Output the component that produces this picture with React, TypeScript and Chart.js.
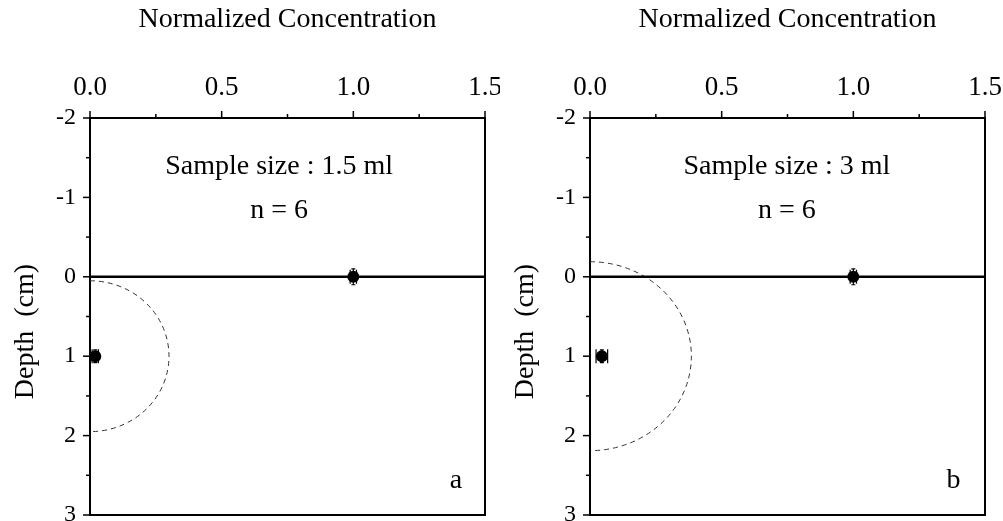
import React, { useEffect, useRef } from 'react';
import { Chart, registerables } from 'chart.js';

Chart.register(...registerables);

// ---------- data ----------
const xTitle = 'Normalized Concentration';
const yTitle = 'Depth  (cm)';

const concMin = 0;
const concMax = 1.5;
const concStep = 0.25;
const depthMin = -2;
const depthMax = 3;
const depthStep = 0.5;

// surface line (depth 0)
const surfaceConc = [0, 1.5];
const surfaceDepth = [0, 0];

// panel a
const concA = [1.0, 0.02];
const depthA = [0, 1.0];
const concErrA = [0.012, 0.012];
const depthErrA = [0.1, 0.08];
const sampleA = 'Sample size : 1.5 ml';
const countA = 'n = 6';
const letterA = 'a';
// sampling region: [centre depth, depth radius, concentration radius]
const regionA = [1.0, 0.95, 0.3];

// panel b
const concB = [1.0, 0.045];
const depthB = [0, 1.0];
const concErrB = [0.012, 0.022];
const depthErrB = [0.1, 0.08];
const sampleB = 'Sample size : 3 ml';
const countB = 'n = 6';
const letterB = 'b';
const regionB = [1.0, 1.19, 0.385];

const SERIF = "'Liberation Serif', 'Times New Roman', serif";

type Panel = {
  conc: number[];
  depth: number[];
  concErr: number[];
  depthErr: number[];
  sample: string;
  count: string;
  letter: string;
  region: number[];
  textConc: number;
  letterConc: number;
};

const panels: Panel[] = [
  { conc: concA, depth: depthA, concErr: concErrA, depthErr: depthErrA, sample: sampleA, count: countA, letter: letterA, region: regionA, textConc: 0.718, letterConc: 1.39 },
  { conc: concB, depth: depthB, concErr: concErrB, depthErr: depthErrB, sample: sampleB, count: countB, letter: letterB, region: regionB, textConc: 0.748, letterConc: 1.38 },
];

function makeDecor(p: Panel) {
  return {
    id: 'decor',
    beforeDatasetsDraw(chart: any) {
      const { ctx, scales } = chart;
      const x = scales.x;
      const y = scales.y;
      // dashed sampling region (half ellipse)
      const [cDepth, rDepth, rConc] = p.region;
      const cx = x.getPixelForValue(0);
      const cy = y.getPixelForValue(cDepth);
      const rx = x.getPixelForValue(rConc) - cx;
      const ry = Math.abs(y.getPixelForValue(cDepth + rDepth) - cy);
      ctx.save();
      ctx.strokeStyle = '#333';
      ctx.lineWidth = 1;
      ctx.setLineDash([5, 4]);
      ctx.beginPath();
      ctx.ellipse(cx, cy, rx, ry, 0, -Math.PI / 2, Math.PI / 2);
      ctx.stroke();
      ctx.restore();
    },
    afterDatasetsDraw(chart: any) {
      const { ctx, scales } = chart;
      const x = scales.x;
      const y = scales.y;
      ctx.save();
      ctx.strokeStyle = '#000';
      ctx.lineWidth = 1.2;
      const cap = 7;
      p.conc.forEach((c, i) => {
        const px = x.getPixelForValue(c);
        const py = y.getPixelForValue(p.depth[i]);
        const x1 = x.getPixelForValue(c - p.concErr[i]);
        const x2 = x.getPixelForValue(c + p.concErr[i]);
        const y1 = y.getPixelForValue(p.depth[i] - p.depthErr[i]);
        const y2 = y.getPixelForValue(p.depth[i] + p.depthErr[i]);
        ctx.beginPath();
        ctx.moveTo(x1, py); ctx.lineTo(x2, py);
        ctx.moveTo(x1, py - cap); ctx.lineTo(x1, py + cap);
        ctx.moveTo(x2, py - cap); ctx.lineTo(x2, py + cap);
        ctx.moveTo(px, y1); ctx.lineTo(px, y2);
        ctx.moveTo(px - 2, y1); ctx.lineTo(px + 2, y1);
        ctx.moveTo(px - 2, y2); ctx.lineTo(px + 2, y2);
        ctx.stroke();
      });
      ctx.restore();
    },
    afterDraw(chart: any) {
      const { ctx, scales, chartArea } = chart;
      const x = scales.x;
      const y = scales.y;
      ctx.save();
      ctx.strokeStyle = '#000';
      ctx.lineWidth = 1.5;
      // x ticks (outward, on top axis)
      x.ticks.forEach((t: any) => {
        const v = t.value;
        const major = Math.abs(v * 2 - Math.round(v * 2)) < 1e-9;
        const len = major ? 7 : 4;
        const px = x.getPixelForValue(v);
        ctx.beginPath();
        ctx.moveTo(px, chartArea.top);
        ctx.lineTo(px, chartArea.top - len);
        ctx.stroke();
      });
      // y ticks (outward, on left axis)
      y.ticks.forEach((t: any) => {
        const v = t.value;
        const major = Math.abs(v - Math.round(v)) < 1e-9;
        const len = major ? 7 : 4;
        const py = y.getPixelForValue(v);
        ctx.beginPath();
        ctx.moveTo(chartArea.left, py);
        ctx.lineTo(chartArea.left - len, py);
        ctx.stroke();
      });
      // annotations
      ctx.fillStyle = '#000';
      ctx.font = `28px ${SERIF}`;
      ctx.textAlign = 'center';
      ctx.textBaseline = 'alphabetic';
      ctx.fillText(p.sample, x.getPixelForValue(p.textConc), y.getPixelForValue(-1.3));
      ctx.fillText(p.count, x.getPixelForValue(p.textConc), y.getPixelForValue(-0.74));
      ctx.fillText(p.letter, x.getPixelForValue(p.letterConc), y.getPixelForValue(2.66));
      // y axis title
      ctx.translate(26, chartArea.top + (chartArea.bottom - chartArea.top) / 2 + 15);
      ctx.rotate(-Math.PI / 2);
      ctx.textBaseline = 'middle';
      ctx.fillText(yTitle, 0, 0);
      ctx.restore();
    },
  };
}

function PanelChart({ p, left, width }: { p: Panel; left: number; width: number }) {
  const ref = useRef<HTMLCanvasElement | null>(null);
  useEffect(() => {
    if (!ref.current) return;
    const rightSpace = width - 485;
    const chart = new Chart(ref.current, {
      type: 'scatter',
      data: {
        datasets: [
          {
            type: 'line',
            label: 'surface',
            data: surfaceConc.map((c, i) => ({ x: c, y: surfaceDepth[i] })),
            borderColor: '#000',
            borderWidth: 2.5,
            pointRadius: 0,
            fill: false,
          } as any,
          {
            label: 'measured',
            data: p.conc.map((c, i) => ({ x: c, y: p.depth[i] })),
            backgroundColor: '#000',
            borderColor: '#000',
            pointRadius: 6,
            pointBorderWidth: 0,
          },
        ],
      },
      options: {
        responsive: false,
        animation: false,
        devicePixelRatio: 1,
        events: [],
        layout: { padding: 0 },
        plugins: { legend: { display: false }, tooltip: { enabled: false } },
        scales: {
          x: {
            type: 'linear',
            position: 'top',
            min: concMin,
            max: concMax,
            grid: { display: false, drawTicks: false },
            border: { display: true, width: 2, color: '#000' },
            ticks: {
              stepSize: concStep,
              autoSkip: false,
              maxRotation: 0,
              padding: 14,
              color: '#000',
              font: { family: SERIF, size: 27 },
              callback: (v: any) => (Math.abs(v * 2 - Math.round(v * 2)) < 1e-9 ? Number(v).toFixed(1) : ''),
            },
            title: {
              display: true,
              text: xTitle,
              color: '#000',
              font: { family: SERIF, size: 28 },
              padding: { top: 3, bottom: 0 },
            },
            afterFit: (s: any) => { s.height = 118; s.paddingLeft = 0; s.paddingRight = 0; },
          },
          y: {
            type: 'linear',
            position: 'left',
            reverse: true,
            min: depthMin,
            max: depthMax,
            grid: { display: false, drawTicks: false },
            border: { display: true, width: 2, color: '#000' },
            ticks: {
              stepSize: depthStep,
              autoSkip: false,
              padding: 14,
              color: '#000',
              font: { family: SERIF, size: 24 },
              callback: (v: any) => (Math.abs(v - Math.round(v)) < 1e-9 ? String(Math.round(v)) : ''),
            },
            afterFit: (s: any) => { s.width = 90; s.paddingTop = 0; s.paddingBottom = 0; },
          },
          xb: {
            type: 'linear',
            position: 'bottom',
            min: concMin,
            max: concMax,
            grid: { display: false, drawTicks: false },
            border: { display: true, width: 2, color: '#000' },
            ticks: { display: false },
            afterFit: (s: any) => { s.height = 6; s.paddingLeft = 0; s.paddingRight = 0; },
          },
          yr: {
            type: 'linear',
            position: 'right',
            min: depthMin,
            max: depthMax,
            grid: { display: false, drawTicks: false },
            border: { display: true, width: 2, color: '#000' },
            ticks: { display: false },
            afterFit: (s: any) => { s.width = rightSpace; s.paddingTop = 0; s.paddingBottom = 0; },
          },
        },
      } as any,
      plugins: [makeDecor(p)],
    });
    return () => chart.destroy();
  }, [p, width]);
  return (
    <canvas
      ref={ref}
      width={width}
      height={521}
      style={{ position: 'absolute', left, top: 0, width, height: 521 }}
    />
  );
}

export default function App() {
  return (
    <div style={{ position: 'absolute', left: 0, top: 0, width: 1003, height: 521, background: '#fff' }}>
      <PanelChart p={panels[0]} left={0} width={500} />
      <PanelChart p={panels[1]} left={500} width={503} />
    </div>
  );
}
